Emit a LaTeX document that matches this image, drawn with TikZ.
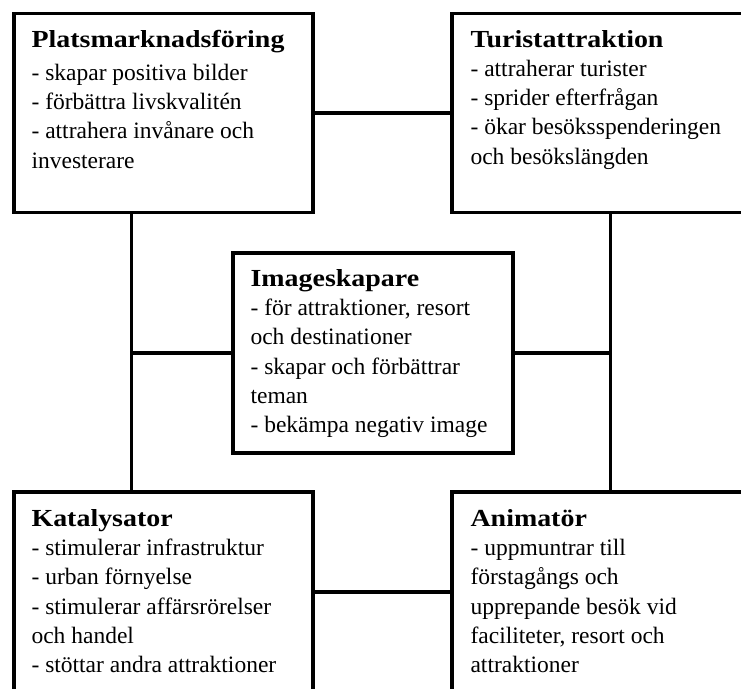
\documentclass[tikz,border=0pt]{standalone}
\usepackage{fontspec}
\setmainfont{Liberation Serif}
\newfontfamily\headfont[FakeStretch=1.14]{Liberation Serif}
\newcommand{\rolehead}[1]{{\fontsize{24.5}{29.3}\headfont\bfseries #1}}
\usetikzlibrary{positioning,calc}

\begin{document}
\begin{tikzpicture}[x=1pt,y=-1pt,
    rolebox/.style={draw,line width=3.3pt,minimum width=299pt,minimum height=199pt,inner sep=0pt},
    roletext/.style={anchor=base west,inner sep=0pt,font=\fontsize{23.5}{29.3}\selectfont},
    link/.style={line width=3.3pt}]
    \useasboundingbox (0,0) rectangle (741,688);
    \clip (0,0) rectangle (741,688);

    % Platsmarknadsforing - top left
    \node[rolebox] (plats) at (163.5,113) {};
    \node[roletext] (platstext) at ([shift={(19,36)}]plats.north west)
        {\parbox[t]{285pt}{\rolehead{Platsmarknadsföring}\\[3pt]
        - skapar positiva bilder\\
        - förbättra livskvalitén\\
        - attrahera invånare och\\
        investerare}};

    % Turistattraktion - top right
    \node[rolebox] (turist) at (601.5,113) {};
    \node[roletext] (turisttext) at ([shift={(20,36)}]turist.north west)
        {\parbox[t]{285pt}{\rolehead{Turistattraktion}\\[-1pt]
        - attraherar turister\\
        - sprider efterfrågan\\
        - ökar besöksspenderingen\\
        och besökslängden}};

    % Imageskapare - centre
    \node[rolebox,minimum width=280pt,minimum height=200pt] (image) at (373,353) {};
    \node[roletext] (imagetext) at ([shift={(19,35)}]image.north west)
        {\parbox[t]{260pt}{\rolehead{Imageskapare}\\
        - för attraktioner, resort\\
        och destinationer\\
        - skapar och förbättrar\\
        teman\\
        - bekämpa negativ image}};

    % Katalysator - bottom left
    \node[rolebox,minimum height=200pt] (katalys) at (163.5,592) {};
    \node[roletext] (katalystext) at ([shift={(19,36)}]katalys.north west)
        {\parbox[t]{285pt}{\rolehead{Katalysator}\\
        - stimulerar infrastruktur\\
        - urban förnyelse\\
        - stimulerar affärsrörelser\\
        och handel\\
        - stöttar andra attraktioner}};

    % Animator - bottom right
    \node[rolebox,minimum height=200pt] (animator) at (601.5,592) {};
    \node[roletext] (animatortext) at ([shift={(20,36)}]animator.north west)
        {\parbox[t]{285pt}{\rolehead{Animatör}\\
        - uppmuntrar till\\
        förstagångs och\\
        upprepande besök vid\\
        faciliteter, resort och\\
        attraktioner}};

    % connectors
    \coordinate (leftbus) at ([xshift=119pt]plats.south west);
    \coordinate (rightbus) at ([xshift=160pt]turist.south west);
    \draw[link] (plats.east) -- (turist.west);
    \draw[link] (katalys.east) -- (animator.west);
    \draw[link] (leftbus) -- (leftbus |- katalys.north);
    \draw[link] (rightbus) -- (rightbus |- animator.north);
    \draw[link] (image.west) -- (image.west -| leftbus);
    \draw[link] (image.east) -- (image.east -| rightbus);
\end{tikzpicture}
\end{document}
